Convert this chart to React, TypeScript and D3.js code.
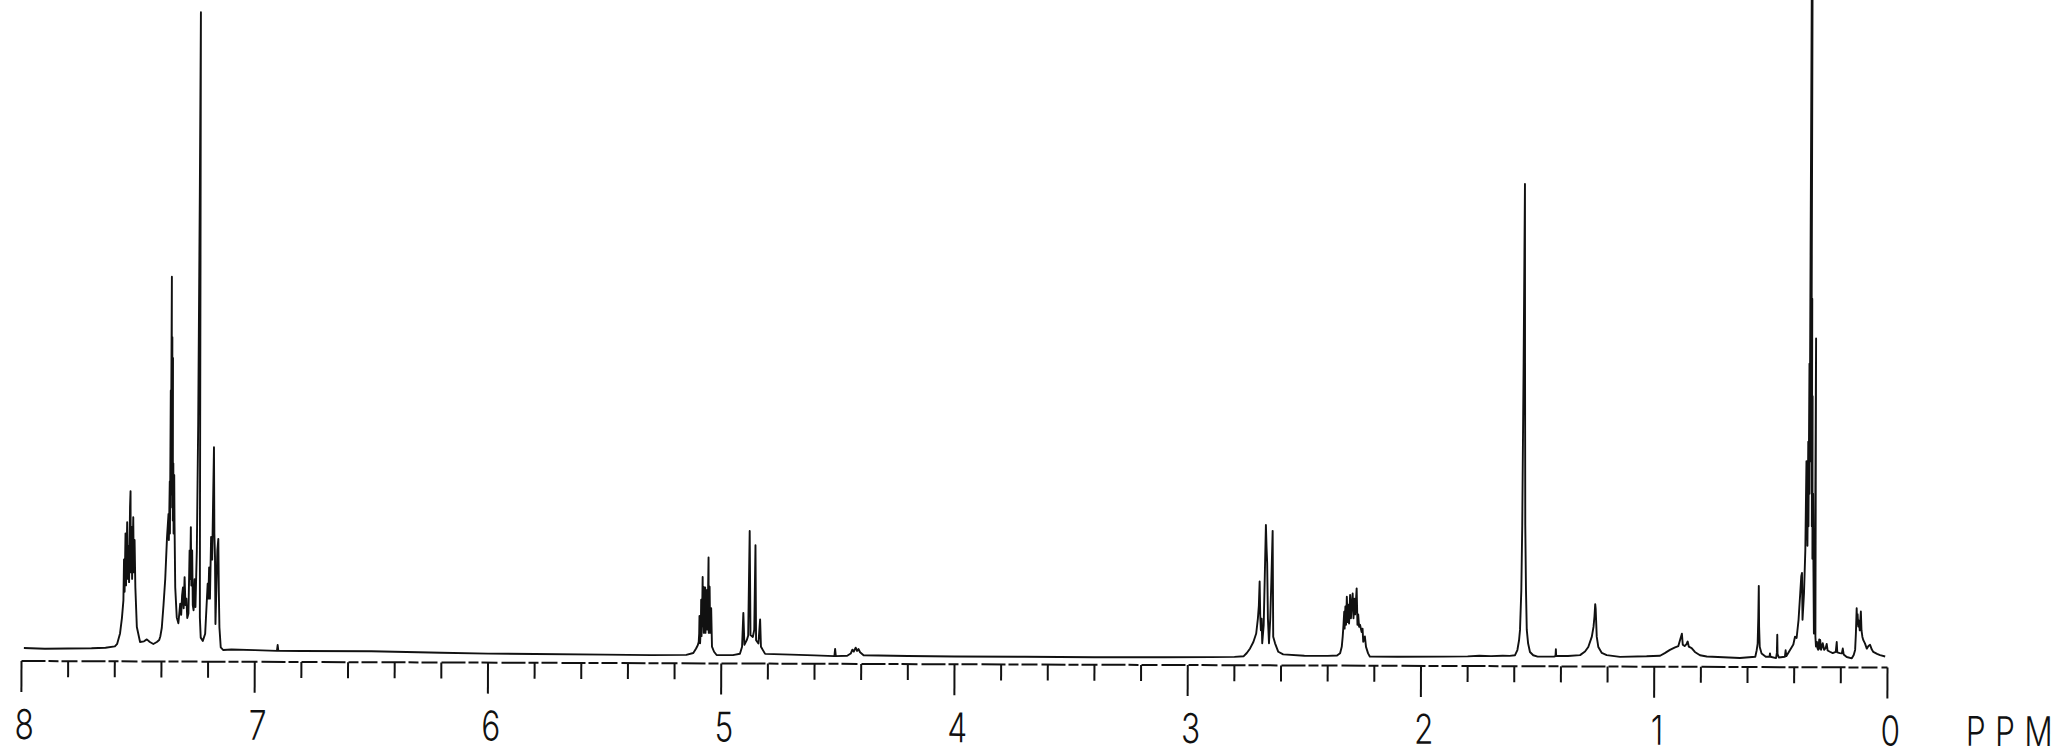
import React from "react";
import * as d3 from "d3";

type Pt = [number, number]; // [chemical shift (ppm), intensity (% of full scale)]

// ---- spectrum trace, grouped by region ----
const AROMATIC: Pt[] = [
  [7.99, 0.3], [7.9, 0.2], [7.8, 0.25], [7.7, 0.3], [7.64, 0.4], [7.6, 0.6], [7.59, 1.0],
  [7.578, 2.6], [7.57, 5.0], [7.564, 7.7], [7.562, 14], [7.559, 9], [7.556, 18], [7.553, 10],
  [7.549, 19.7], [7.546, 11], [7.543, 16], [7.54, 10.5], [7.537, 22], [7.535, 24.5], [7.533, 12],
  [7.53, 19], [7.527, 11], [7.523, 20.5], [7.52, 12], [7.517, 17], [7.513, 9.7], [7.506, 3.6],
  [7.492, 1.3], [7.475, 1.4], [7.463, 1.7], [7.45, 1.3], [7.435, 1.0], [7.42, 1.3], [7.41, 1.6],
  [7.405, 2.2], [7.399, 3.5], [7.392, 7], [7.385, 11], [7.378, 17.4], [7.372, 21], [7.37, 17],
  [7.367, 26], [7.3655, 18], [7.364, 40], [7.3625, 22], [7.361, 57.5], [7.3595, 30], [7.358, 48.2],
  [7.3565, 24], [7.355, 45], [7.3535, 20], [7.352, 28.8], [7.35, 18], [7.348, 27], [7.346, 19.5],
  [7.342, 9.7], [7.335, 5.1], [7.328, 4.2], [7.3205, 7.2], [7.316, 5.5], [7.3125, 8.5], [7.309, 9.7],
  [7.3055, 6.5], [7.302, 11.3], [7.298, 7.0], [7.294, 8.0], [7.29, 5.0], [7.285, 5.7], [7.281, 15.4],
  [7.2785, 11], [7.276, 19], [7.273, 10], [7.27, 15.4], [7.2665, 7], [7.263, 6.2], [7.259, 11],
  [7.255, 6.7], [7.25, 15.4], [7.246, 35], [7.2425, 70], [7.2405, 98.2], [7.2385, 60], [7.237, 20],
  [7.236, 5.1], [7.232, 2.0], [7.223, 1.5], [7.213, 2.6], [7.203, 10.3], [7.2, 8], [7.197, 12.8],
  [7.193, 8], [7.189, 17.5], [7.184, 14], [7.18, 25.7], [7.178, 31.3], [7.175, 18], [7.172, 14.4],
  [7.169, 4.1], [7.166, 9], [7.162, 15.4], [7.158, 17.2], [7.155, 9], [7.152, 3.6], [7.146, 0.5],
  [7.135, 0.1], [7.1, 0.2], [7.0, 0.1], [6.905, 0.0], [6.902, 0.9], [6.899, 0.0], [6.8, 0.0],
  [6.5, 0.0], [6.2, -0.2], [6.0, -0.3], [5.8, -0.35], [5.5, -0.4], [5.3, -0.45], [5.15, -0.4],
];

const OLEFINIC: Pt[] = [
  [5.12, -0.1], [5.108, 0.6], [5.101, 1.1], [5.097, 1.6], [5.095, 2.9], [5.094, 5.6], [5.0925, 2.0],
  [5.091, 1.4], [5.088, 4], [5.087, 8.1], [5.085, 2.5], [5.083, 5], [5.081, 11.6], [5.079, 4],
  [5.077, 10.1], [5.075, 3], [5.0725, 6], [5.07, 10], [5.068, 3], [5.065, 7], [5.062, 9.6],
  [5.06, 3.5], [5.058, 8], [5.056, 14.6], [5.054, 3], [5.051, 10.1], [5.048, 3], [5.044, 6.8],
  [5.04, 0.9], [5.031, 0.1], [5.02, -0.4], [4.95, -0.4], [4.92, -0.2], [4.911, 0.9], [4.906, 6.1],
  [4.901, 1.2], [4.891, 1.9], [4.885, 2.6], [4.88, 18.7], [4.875, 2.7], [4.865, 2.4], [4.859, 3.5],
  [4.855, 16.5], [4.851, 1.9], [4.841, 1.4], [4.834, 5.1], [4.83, 0.9], [4.812, -0.2], [4.7, -0.3],
  [4.6, -0.4], [4.515, -0.5], [4.512, 0.6], [4.509, -0.5], [4.46, -0.45], [4.445, -0.1],
  [4.438, 0.5], [4.432, 0.2], [4.424, 0.8], [4.418, 0.3], [4.412, 0.6], [4.405, 0.1], [4.39, -0.35],
  [4.2, -0.45], [4.0, -0.5], [3.7, -0.5], [3.4, -0.55], [3.1, -0.5], [2.9, -0.45], [2.8, -0.4],
];

const ALLYLIC: Pt[] = [
  [2.76, -0.3], [2.747, 0.2], [2.733, 0.9], [2.719, 1.9], [2.707, 3.2], [2.7, 5.5], [2.696, 7.5],
  [2.693, 11.2], [2.69, 6.0], [2.687, 3.7], [2.684, 5.5], [2.681, 1.7], [2.675, 4.5], [2.671, 12],
  [2.667, 19.9], [2.664, 16.5], [2.661, 14], [2.657, 5.5], [2.652, 1.7], [2.647, 5.5], [2.643, 11],
  [2.638, 19], [2.634, 2.7], [2.626, 1.7], [2.612, 0.4], [2.591, 0.0], [2.5, -0.2], [2.4, -0.2],
  [2.36, -0.15], [2.347, 0.2], [2.34, 1.2], [2.336, 2.8], [2.333, 4.5], [2.33, 6.6], [2.328, 4.0],
  [2.325, 7.4], [2.322, 4.6], [2.319, 8.9], [2.315, 5.0], [2.312, 7.7], [2.309, 4.8], [2.305, 9.2],
  [2.301, 5.6], [2.298, 7.7], [2.294, 9.4], [2.29, 5.6], [2.287, 8.6], [2.283, 6.2], [2.277, 10.2],
  [2.273, 4.6], [2.27, 6.2], [2.266, 4.3], [2.262, 4.6], [2.255, 3.5], [2.251, 4.0], [2.248, 2.0],
  [2.241, 2.8], [2.236, 1.2], [2.227, 0.2], [2.219, -0.3], [2.1, -0.3], [1.9, -0.25], [1.8, -0.2],
  [1.75, -0.1], [1.7, -0.15], [1.65, -0.1],
];

const ALIPHATIC: Pt[] = [
  [1.62, -0.1], [1.597, 0.0], [1.587, 0.8], [1.58, 2.3], [1.576, 3.9], [1.571, 10], [1.568, 20],
  [1.5645, 45], [1.5615, 72.5], [1.5585, 45], [1.555, 20], [1.551, 10], [1.547, 3.9], [1.541, 1.8],
  [1.533, 0.5], [1.519, 0.0], [1.5, -0.2], [1.47, -0.2], [1.43, -0.2], [1.4235, -0.1], [1.422, 0.95],
  [1.4205, -0.1], [1.37, -0.1], [1.318, 0.05], [1.297, 0.6], [1.283, 1.3], [1.268, 2.9], [1.261, 4.4],
  [1.257, 6.0], [1.254, 7.9], [1.252, 7.2], [1.25, 5.5], [1.247, 2.9], [1.24, 1.3], [1.225, 0.4],
  [1.204, 0.07], [1.147, -0.2], [1.033, -0.1], [0.975, 0.0], [0.955, 0.4], [0.933, 0.9],
  [0.911, 1.3], [0.897, 1.5], [0.89, 2.4], [0.882, 3.4], [0.878, 1.7], [0.87, 1.5], [0.862, 1.8],
  [0.857, 2.2], [0.852, 1.4], [0.84, 1.2], [0.826, 0.6], [0.804, 0.1], [0.775, -0.1], [0.633, -0.3],
  [0.567, -0.1], [0.561, 0.9], [0.557, 1.9], [0.5545, 6], [0.553, 10.8], [0.551, 4.5], [0.548, 1.4],
  [0.54, 0.4], [0.522, -0.1], [0.506, -0.1], [0.504, 0.4], [0.502, -0.1], [0.478, -0.3],
  [0.4745, 0.5], [0.473, 3.3], [0.4715, 0.3], [0.466, -0.2], [0.44, -0.1], [0.437, 0.9], [0.434, 0.0],
];

const SILYL: Pt[] = [
  [0.404, 1.8], [0.397, 3.0], [0.39, 2.8], [0.382, 5.6], [0.375, 9.8], [0.371, 12.3], [0.368, 12.8],
  [0.365, 5.6], [0.359, 9.7], [0.354, 16.3], [0.3505, 30], [0.349, 18], [0.347, 27], [0.345, 17],
  [0.343, 33], [0.341, 20], [0.339, 45], [0.337, 25], [0.3345, 110], [0.333, 35], [0.3315, 110],
  [0.33, 30], [0.328, 55], [0.3265, 20], [0.325, 40], [0.3235, 15], [0.3215, 25], [0.319, 13.7],
  [0.316, 3.5], [0.3125, 10], [0.311, 48.9], [0.3095, 3], [0.307, 1.5], [0.303, 2.2], [0.3, 1.2],
  [0.297, 1.0], [0.293, 2.6], [0.291, 1.2], [0.289, 2.5], [0.285, 1.0], [0.278, 2.0], [0.272, 1.0],
  [0.265, 1.3], [0.261, 1.9], [0.257, 0.9], [0.247, 0.7], [0.235, 0.5], [0.222, 0.7], [0.218, 2.2],
  [0.2155, 0.6], [0.205, 0.5], [0.196, 0.45], [0.192, 1.2], [0.188, 0.3], [0.175, -0.1],
  [0.153, -0.3], [0.145, 0.2], [0.139, 1.0], [0.136, 3.5], [0.133, 7.4], [0.131, 5.0], [0.129, 6.5],
  [0.126, 4.6], [0.123, 5.5], [0.1195, 4.0], [0.115, 6.9], [0.112, 4.0], [0.108, 3.0], [0.104, 2.5],
  [0.097, 2.0], [0.089, 1.2], [0.082, 1.6], [0.075, 1.8], [0.068, 1.1], [0.061, 0.7], [0.045, 0.4],
  [0.032, 0.2], [0.01, 0.0],
];

// ---- axis ----
const MAJOR_TICKS = [8, 7, 6, 5, 4, 3, 2, 1, 0];
const MINOR_STEP = 0.2;
const AXIS_UNIT = "PPM";

const W = 2059;
const H = 755;

export default function App() {
  const x = d3.scaleLinear().domain([8, 0]).range([21.5, 1887.5]);
  const y = d3.scaleLinear().domain([0, 100]).range([650, 0]);

  const trace = [...AROMATIC, ...OLEFINIC, ...ALLYLIC, ...ALIPHATIC, ...SILYL].sort(
    (a, b) => b[0] - a[0]
  );
  const line = d3
    .line<Pt>()
    .x((d) => x(d[0]))
    .y((d) => y(d[1]));

  const axisY = 661;
  const nMinor = Math.round(8 / MINOR_STEP);
  const ticks = d3.range(nMinor + 1).map((i) => +(8 - i * MINOR_STEP).toFixed(1));
  const isMajor = (t: number) => Math.abs(t - Math.round(t)) < 1e-6;

  const labelY = 739;
  const font = "Inter, 'DejaVu Sans', sans-serif";

  return (
    <svg
      width={W}
      height={H}
      viewBox={`0 0 ${W} ${H}`}
      style={{ position: "absolute", left: 0, top: 0, background: "#fff" }}
    >
      <rect x={0} y={0} width={W} height={H} fill="#fff" />
      <g transform={`rotate(0.2, 21.5, ${axisY})`}>
        <path
          d={line(trace) || ""}
          fill="none"
          stroke="#111"
          strokeWidth={1.9}
          strokeLinejoin="round"
        />
        <line
          x1={x(8)}
          x2={x(0)}
          y1={axisY}
          y2={axisY}
          stroke="#111"
          strokeWidth={2}
          strokeDasharray="24 3 10 3 16 4"
        />
        {ticks.map((t) => (
          <line
            key={t}
            x1={x(t)}
            x2={x(t)}
            y1={axisY}
            y2={axisY + (isMajor(t) ? 31 : 16)}
            stroke="#111"
            strokeWidth={2}
          />
        ))}
        {MAJOR_TICKS.map((t) => (
          <g key={t} transform={`translate(${x(t) + 3},${labelY}) scale(0.77,1)`}>
            <text
              x={0}
              y={0}
              textAnchor="middle"
              fontSize={41}
              fontFamily={font}
              fontWeight={300}
              fill="#111"
            >
              {d3.format("d")(t)}
            </text>
          </g>
        ))}
        <g transform={`translate(1966,${labelY}) scale(0.77,1)`}>
          <text
            x={0}
            y={0}
            fontSize={41}
            fontFamily={font}
            fontWeight={300}
            fill="#111"
            textLength={113}
            lengthAdjust="spacing"
          >
            {AXIS_UNIT}
          </text>
        </g>
      </g>
    </svg>
  );
}
